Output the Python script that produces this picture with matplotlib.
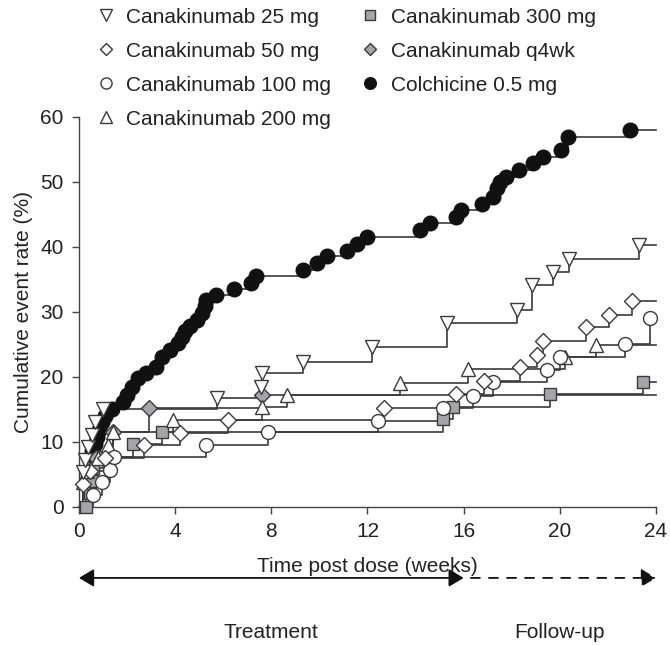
import numpy as np
import matplotlib.pyplot as plt
from matplotlib.lines import Line2D
from matplotlib.transforms import blended_transform_factory

plt.rcParams['font.family'] = ['Liberation Sans', 'DejaVu Sans']
plt.rcParams['font.size'] = 15

# ---- data: event times (weeks) and cumulative event rate (%) ----
t_colch = [0.46, 0.55, 0.67, 0.75, 0.83, 0.95, 1.08, 1.37, 1.83, 2.0, 2.2, 2.45,
           2.8, 3.2, 3.45, 3.8, 4.1, 4.3, 4.4, 4.6, 4.9, 5.1, 5.25, 5.3, 5.7,
           6.45, 7.15, 7.35, 9.3, 9.9, 10.3, 11.15, 11.55, 12.0, 14.2, 14.6,
           15.7, 15.9, 16.75, 17.2, 17.4, 17.5, 17.75, 18.3, 18.9, 19.3, 20.05,
           20.35, 22.9]
r_colch = [7.5, 8.6, 9.7, 10.8, 11.9, 13.0, 14.0, 15.1, 16.2, 17.3, 18.5, 19.8,
           20.6, 21.5, 23.0, 24.2, 25.2, 26.2, 27.0, 27.8, 28.8, 29.8, 30.9, 31.8, 32.6,
           33.5, 34.4, 35.5, 36.5, 37.5, 38.6, 39.4, 40.5, 41.5, 42.6, 43.7,
           44.6, 45.7, 46.6, 47.7, 49.0, 50.0, 50.8, 51.8, 52.9, 53.8, 54.9,
           56.9, 58.0]

t_25 = [0.17, 0.27, 0.37, 0.54, 0.67, 1.0, 5.75, 7.55, 7.6, 9.3, 12.2, 15.3,
        18.2, 18.85, 19.7, 20.4, 23.3]
r_25 = [5.4, 7.3, 9.2, 11.0, 13.0, 15.0, 16.8, 18.5, 20.6, 22.3, 24.6, 28.3,
        30.3, 34.1, 36.1, 38.1, 40.3]

t_50 = [0.15, 0.45, 1.1, 2.7, 4.2, 6.2, 12.7, 15.7, 16.85, 18.35, 19.05, 19.3,
        21.1, 22.05, 23.0]
r_50 = [3.6, 5.6, 7.5, 9.5, 11.4, 13.4, 15.2, 17.4, 19.4, 21.5, 23.4, 25.5,
        27.7, 29.5, 31.7]

t_100 = [0.6, 0.95, 1.3, 1.45, 5.3, 7.85, 12.45, 15.15, 16.4, 17.2, 19.45,
         20.0, 22.7, 23.75]
r_100 = [1.9, 3.8, 5.7, 7.7, 9.5, 11.5, 13.3, 15.2, 17.1, 19.2, 21.1,
         23.1, 25.1, 29.1]

t_200 = [0.15, 0.35, 0.8, 1.2, 1.4, 3.9, 7.6, 8.65, 13.35, 16.2, 20.2, 21.5]
r_200 = [3.8, 5.6, 7.5, 9.5, 11.5, 13.4, 15.4, 17.2, 19.1, 21.2, 23.1, 24.9]

t_300 = [0.3, 0.45, 0.55, 0.6, 1.0, 2.25, 3.45, 15.15, 15.55, 19.6, 23.45]
r_300 = [0.0, 2.1, 4.0, 6.0, 7.7, 9.7, 11.5, 13.5, 15.4, 17.4, 19.2]

t_q4 = [0.3, 0.7, 1.4, 2.9, 7.6]
r_q4 = [3.8, 7.6, 11.6, 15.2, 17.2]

T_END = 24

line_c = '#3a3a3a'
gray = '#a4a4aa'
black = '#111111'

series = [
    # (label, times, rates, marker, face, size)
    ('Colchicine 0.5 mg', t_colch, r_colch, 'o', black, 10.5),
    ('Canakinumab q4wk', t_q4, r_q4, 'D', gray, 8),
    ('Canakinumab 300 mg', t_300, r_300, 's', gray, 8.5),
    ('Canakinumab 200 mg', t_200, r_200, '^', 'white', 10.5),
    ('Canakinumab 100 mg', t_100, r_100, 'o', 'white', 10),
    ('Canakinumab 50 mg', t_50, r_50, 'D', 'white', 8),
    ('Canakinumab 25 mg', t_25, r_25, 'v', 'white', 10.5),
]

fig = plt.figure(figsize=(6.7, 6.45), dpi=100)
ax = fig.add_axes([0.1179, 0.2140, 0.8612, 0.6047])

for lab, t, r, m, fc, ms in series:
    xs = [0] + list(t) + [T_END]
    ys = [0] + list(r) + [r[-1]]
    ax.step(xs, ys, where='post', color=line_c, lw=1.2, zorder=2, clip_on=False)
    ax.plot(t, r, ls='none', marker=m, ms=ms, mfc=fc,
            mec=black if fc == black else line_c, mew=1.0, zorder=3, clip_on=False)

ax.set_xlim(0, 24)
ax.set_ylim(0, 60)
ax.set_xticks(np.arange(0, 25, 4))
ax.set_yticks(np.arange(0, 61, 10))
for s in ['top', 'right']:
    ax.spines[s].set_visible(False)
for s in ['left', 'bottom']:
    ax.spines[s].set_color('#444444')
    ax.spines[s].set_linewidth(1.0)
ax.tick_params(direction='out', length=5, width=1.0, color='#444444',
               labelsize=15, labelcolor='#222222', pad=6)
ax.set_xlabel('Time post dose (weeks)', color='#222222')
ax.xaxis.set_label_coords(0.5, -0.128)
ax.set_ylabel('Cumulative event rate (%)', color='#222222')
ax.yaxis.set_label_coords(-0.079, 0.5)

# legend
order = ['Canakinumab 25 mg', 'Canakinumab 50 mg', 'Canakinumab 100 mg',
         'Canakinumab 200 mg', 'Canakinumab 300 mg', 'Canakinumab q4wk',
         'Colchicine 0.5 mg']
lookup = {s[0]: s for s in series}
handles = []
for lab in order:
    _, _, _, m, fc, ms = lookup[lab]
    handles.append(Line2D([], [], ls='none', marker=m, ms=ms * 0.8, mfc=fc,
                          mec=black if fc == black else line_c, mew=1.0))
fig.legend(handles, order, loc='upper left', bbox_to_anchor=(0.142, 0.988),
           ncol=2, frameon=False, fontsize=15, handlelength=1.0,
           handletextpad=0.5, labelspacing=0.72, columnspacing=1.35,
           borderpad=0, borderaxespad=0, labelcolor='#222222')

# treatment / follow-up arrows
y_arr = 0.104
tr = blended_transform_factory(ax.transData, fig.transFigure)
ax.annotate('', xy=(0, y_arr), xycoords=tr, xytext=(16, y_arr), textcoords=tr,
            arrowprops=dict(arrowstyle='<|-|>,head_length=0.45,head_width=0.27',
                            mutation_scale=20, color='#111111', lw=1.3,
                            shrinkA=0, shrinkB=0), annotation_clip=False)
ax.annotate('', xy=(24, y_arr), xycoords=tr, xytext=(16.3, y_arr), textcoords=tr,
            arrowprops=dict(arrowstyle='-|>,head_length=0.45,head_width=0.27',
                            mutation_scale=20, color='#111111', lw=1.3,
                            ls=(0, (5, 5)), shrinkA=0, shrinkB=0),
            annotation_clip=False)
ax.text(8, 0.02, 'Treatment', transform=tr, ha='center', va='center', color='#222222')
ax.text(20, 0.02, 'Follow-up', transform=tr, ha='center', va='center', color='#222222')

fig.savefig('out.png', dpi=100)
